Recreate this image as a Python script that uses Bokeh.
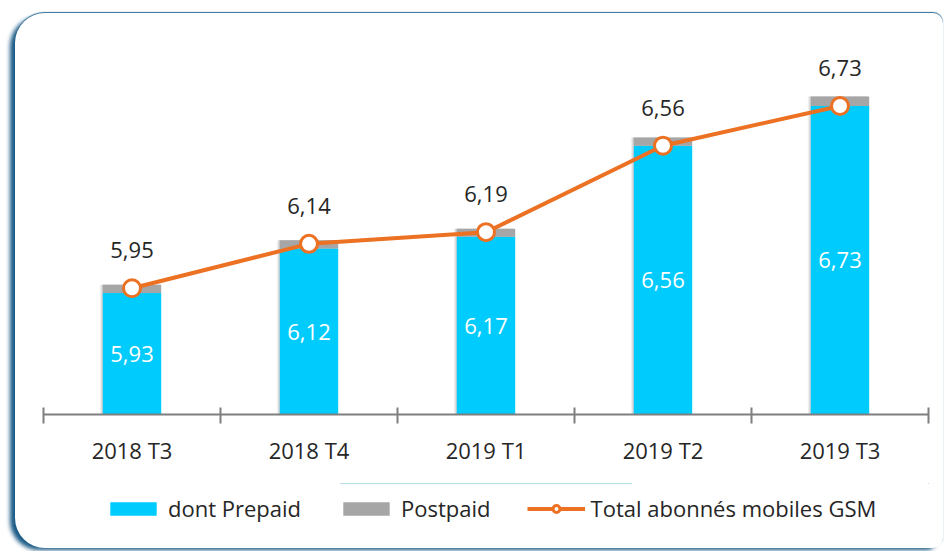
from bokeh.plotting import figure
from bokeh.layouts import column
from bokeh.models import (Range1d, FixedTicker, ColumnDataSource, LabelSet,
                          Legend, LegendItem)
from bokeh.transform import dodge
from bokeh.core.properties import value
from bokeh.embed import file_html
from bokeh.resources import INLINE

# ---- data ----
categories = ["2018 T3", "2018 T4", "2019 T1", "2019 T2", "2019 T3"]
prepaid = [5.93, 6.12, 6.17, 6.56, 6.73]
postpaid = [0.035, 0.035, 0.035, 0.035, 0.04]
total = [5.95, 6.14, 6.19, 6.56, 6.73]
prepaid_labels = ["5,93", "6,12", "6,17", "6,56", "6,73"]
total_labels = ["5,95", "6,14", "6,19", "6,56", "6,73"]
series_names = ["dont Prepaid", "Postpaid", "Total abonnés mobiles GSM"]

BASE = 5.41
FONT = "Open Sans"
CYAN = "#00CBFD"
GRAY = "#A6A6A6"
ORANGE = "#EC7123"

x = [i + 0.5 for i in range(len(categories))]
src = ColumnDataSource(dict(
    x=x,
    base=[BASE] * len(x),
    prepaid=prepaid,
    top=[p_ + q for p_, q in zip(prepaid, postpaid)],
    total=total,
    mid=[(BASE + v) / 2 for v in prepaid],
    plabel=prepaid_labels,
    tlabel=total_labels,
))

p = figure(width=928, height=470, output_backend="svg",
           toolbar_location=None,
           x_range=Range1d(0, len(categories)), y_range=Range1d(BASE, 7.01),
           y_axis_location=None, min_border_left=28, min_border_right=15,
           min_border_top=27, min_border_bottom=69)
p.border_fill_color = None
p.background_fill_color = None
p.outline_line_color = None
p.xgrid.visible = False
p.ygrid.visible = False

# bar shadows
for k, a in [(3, 0.10), (2, 0.14), (1, 0.18)]:
    p.vbar(x=dodge("x", -0.0056 * k), bottom="base", top="top", width=0.33,
           source=src, fill_color="#808080", fill_alpha=a, line_color=None)

p.vbar(x="x", bottom="base", top="prepaid", width=0.33, source=src,
       fill_color=CYAN, line_color=None)
p.vbar(x="x", bottom="prepaid", top="top", width=0.33, source=src,
       fill_color=GRAY, line_color=None)

p.line(x="x", y="total", source=src, line_color=ORANGE, line_width=4)
p.scatter(x="x", y="total", source=src, marker="circle", size=17,
          fill_color="white", line_color=ORANGE, line_width=3)

p.add_layout(LabelSet(x="x", y="mid", text="plabel", source=src,
                      text_color="white", text_font=value(FONT),
                      text_font_size="22px", text_align="center",
                      text_baseline="middle"))
p.add_layout(LabelSet(x="x", y="total", text="tlabel", source=src,
                      text_color="#262626", text_font=value(FONT),
                      text_font_size="22px", text_align="center",
                      text_baseline="alphabetic", y_offset=30))

ax = p.xaxis[0]
ax.ticker = FixedTicker(ticks=x, minor_ticks=list(range(len(categories) + 1)))
ax.major_label_overrides = {xi: c for xi, c in zip(x, categories)}
ax.major_tick_line_color = None
ax.major_tick_in = 0
ax.major_tick_out = 8
ax.minor_tick_in = 7
ax.minor_tick_out = 9
ax.minor_tick_line_color = "#7F7F7F"
ax.minor_tick_line_width = 2
ax.axis_line_color = "#7F7F7F"
ax.axis_line_width = 2
ax.major_label_standoff = 11
ax.major_label_text_font = FONT
ax.major_label_text_font_size = "22px"
ax.major_label_text_color = "#262626"

# ---- legend strip: same series, drawn outside this strip's visible range ----
lg = figure(width=928, height=65, output_backend="svg", toolbar_location=None,
            x_range=Range1d(0, 1), y_range=Range1d(0, 1),
            x_axis_location=None, y_axis_location=None,
            min_border_left=0, min_border_right=0, min_border_top=0,
            min_border_bottom=0)
lg.border_fill_color = None
lg.background_fill_color = None
lg.outline_line_color = None
lg.xgrid.visible = False
lg.ygrid.visible = False
l_pre = lg.vbar(x="x", bottom="base", top="prepaid", width=0.33, source=src,
                fill_color=CYAN, line_color=None)
l_post = lg.vbar(x="x", bottom="prepaid", top="top", width=0.33, source=src,
                 fill_color=GRAY, line_color=None)
l_line = lg.line(x="x", y="total", source=src, line_color=ORANGE,
                 line_width=4)
l_mark = lg.scatter(x="x", y="total", source=src, marker="circle", size=15,
                    fill_color="white", line_color=ORANGE, line_width=3)
legend = Legend(items=[
    LegendItem(label=series_names[0], renderers=[l_pre]),
    LegendItem(label=series_names[1], renderers=[l_post]),
    LegendItem(label=series_names[2], renderers=[l_line, l_mark]),
], orientation="horizontal", location=(61, 25), glyph_width=58,
    glyph_height=17, label_standoff=6, spacing=36, border_line_color=None,
    background_fill_alpha=0, label_text_font=FONT, label_text_font_size="22px",
    label_text_color="#262626", margin=0, padding=8)
lg.add_layout(legend)

layout = column(p, lg, spacing=0, margin=(13, 0, 0, 15))
layout.styles = {
    "background-color": "white",
    "border-radius": "30px 10px 10px 30px",
    "box-shadow": "-6px 3px 4px -1px #1a5a86, 0px -1px 1px 0px #2f6d95",
}

open("out.html", "w").write(file_html(layout, INLINE))
